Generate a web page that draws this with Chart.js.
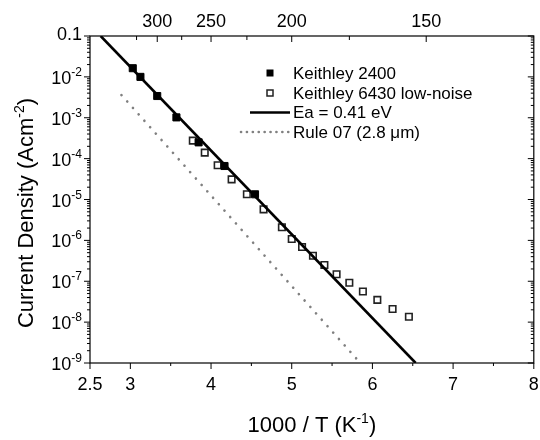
<!DOCTYPE html>
<html>
<head>
<meta charset="UTF-8">
<title>Current Density vs 1000/T</title>
<script src="https://cdn.jsdelivr.net/npm/chart.js"></script>
<style>
  body { margin: 0; background: #fff; }
  #wrap { width: 540px; height: 440px; }
</style>
</head>
<body>
<div id="wrap"><canvas id="jtChart" width="540" height="440"></canvas></div>
<script>
// Keithley 2400 (filled squares)
const k2400X = [3.03, 3.125, 3.333, 3.571, 3.846, 4.167, 4.545];
const k2400Y = [1.63e-2, 1.0e-2, 3.4e-3, 1.02e-3, 2.5e-4, 6.6e-5, 1.34e-5];
// Keithley 6430 low-noise (open squares)
const k6430X = [3.774, 3.922, 4.082, 4.255, 4.444, 4.651, 4.878, 5.0, 5.128, 5.263, 5.405, 5.556, 5.714, 5.882, 6.061, 6.25, 6.452];
const k6430Y = [2.75e-4, 1.4e-4, 6.9e-5, 3.1e-5, 1.34e-5, 5.75e-6, 2.1e-6, 1.08e-6, 6.9e-7, 4.2e-7, 2.5e-7, 1.48e-7, 9.2e-8, 5.6e-8, 3.5e-8, 2.1e-8, 1.35e-8];
// Ea = 0.41 eV fit line
const fitX = [2.632, 6.536];
const fitY = [0.1, 1e-9];
// Rule 07 (2.8 um)
const ruleX = [2.89, 5.85];
const ruleY = [3.6e-3, 1e-9];

// axis ticks
const xMajor = [2.5, 3, 4, 5, 6, 7, 8];
const xMajorLabels = ['2.5', '3', '4', '5', '6', '7', '8'];
const xMinor = [3.5, 4.5, 5.5, 6.5, 7.5];
const topTemps = [300, 250, 200, 150];
const topMinorTemps = [325, 275, 225, 175];
const yExps = [-9, -8, -7, -6, -5, -4, -3, -2, -1];

const FONT = '"Liberation Sans", Arial, sans-serif';

function pts(xs, ys) {
  return xs.map((x, i) => ({ x: x, y: ys[i] }));
}

// draws text runs [text, size, dy] left to right, anchored by align
function drawRuns(ctx, runs, x, y, align) {
  let total = 0;
  runs.forEach(r => {
    ctx.font = r[1] + 'px ' + FONT;
    r.w = ctx.measureText(r[0]).width;
    total += r.w;
  });
  let cx = align === 'right' ? x - total : align === 'center' ? x - total / 2 : x;
  ctx.textAlign = 'left';
  ctx.textBaseline = 'alphabetic';
  runs.forEach(r => {
    ctx.font = r[1] + 'px ' + FONT;
    ctx.fillText(r[0], cx, y + r[2]);
    cx += r.w;
  });
}

const axesPlugin = {
  id: 'originAxes',
  afterDatasetsDraw(chart) {
    const { ctx, chartArea: a } = chart;
    const x = chart.scales.x, y = chart.scales.y;
    ctx.save();
    ctx.fillStyle = '#000';
    ctx.strokeStyle = '#000';
    ctx.lineWidth = 1.2;
    ctx.strokeRect(a.left, a.top, a.right - a.left, a.bottom - a.top);

    ctx.beginPath();
    // bottom ticks, outward
    xMajor.forEach(v => {
      const px = x.getPixelForValue(v);
      ctx.moveTo(px, a.bottom); ctx.lineTo(px, a.bottom + 6);
    });
    xMinor.forEach(v => {
      const px = x.getPixelForValue(v);
      ctx.moveTo(px, a.bottom); ctx.lineTo(px, a.bottom + 3);
    });
    // top ticks (temperature), inward
    topTemps.forEach(t => {
      const px = x.getPixelForValue(1000 / t);
      ctx.moveTo(px, a.top); ctx.lineTo(px, a.top + 6);
    });
    topMinorTemps.forEach(t => {
      const px = x.getPixelForValue(1000 / t);
      ctx.moveTo(px, a.top); ctx.lineTo(px, a.top + 4);
    });
    // left (outward) and right (inward) log ticks
    yExps.forEach(e => {
      const py = y.getPixelForValue(Math.pow(10, e));
      ctx.moveTo(a.left, py); ctx.lineTo(a.left - 6, py);
      ctx.moveTo(a.right, py); ctx.lineTo(a.right - 6, py);
      if (e < -1) {
        for (let m = 2; m <= 9; m++) {
          const pm = y.getPixelForValue(m * Math.pow(10, e));
          ctx.moveTo(a.left, pm); ctx.lineTo(a.left - 3, pm);
          ctx.moveTo(a.right, pm); ctx.lineTo(a.right - 3, pm);
        }
      }
    });
    ctx.lineWidth = 1;
    ctx.stroke();

    // bottom labels
    ctx.textAlign = 'center';
    ctx.textBaseline = 'alphabetic';
    ctx.font = '18px ' + FONT;
    xMajor.forEach((v, i) => {
      ctx.fillText(xMajorLabels[i], x.getPixelForValue(v), a.bottom + 27);
    });
    // top labels
    topTemps.forEach(t => {
      ctx.fillText(String(t), x.getPixelForValue(1000 / t), a.top - 9);
    });
    // left labels
    yExps.forEach(e => {
      const py = y.getPixelForValue(Math.pow(10, e));
      if (e === -1) {
        drawRuns(ctx, [['0.1', 18, 0]], a.left - 8, py + 4, 'right');
      } else {
        drawRuns(ctx, [['10', 18, 0], [String(e), 12, -8]], a.left - 8, py + 7, 'right');
      }
    });

    // axis titles
    drawRuns(ctx, [['1000 / T (K', 22, 0], ['-1', 14, -9], [')', 22, 0]], (a.left + a.right) / 2, 432, 'center');
    ctx.save();
    ctx.translate(33, 213);
    ctx.rotate(-Math.PI / 2);
    drawRuns(ctx, [['Current Density (Acm', 22, 0], ['-2', 14, -9], [')', 22, 0]], 0, 0, 'center');
    ctx.restore();

    // legend
    const lx = 270, tx = 293;
    const rows = [73, 93, 112.5, 132];
    ctx.fillStyle = '#000';
    ctx.fillRect(lx - 3.5, rows[0] - 3.5, 7, 7);
    ctx.lineWidth = 1.5;
    ctx.strokeStyle = '#222';
    ctx.strokeRect(lx - 3, rows[1] - 3, 6, 6);
    ctx.beginPath();
    ctx.strokeStyle = '#000';
    ctx.lineWidth = 2.6;
    ctx.moveTo(250, rows[2]); ctx.lineTo(290, rows[2]);
    ctx.stroke();
    ctx.beginPath();
    ctx.strokeStyle = '#808080';
    ctx.lineCap = 'round';
    ctx.setLineDash([0.1, 5.8]);
    ctx.moveTo(241, rows[3]); ctx.lineTo(290, rows[3]);
    ctx.stroke();
    ctx.setLineDash([]);
    ctx.fillStyle = '#000';
    ctx.font = '17px ' + FONT;
    ctx.textAlign = 'left';
    ctx.textBaseline = 'middle';
    ctx.fillText('Keithley 2400', tx, rows[0] + 1);
    ctx.fillText('Keithley 6430 low-noise', tx, rows[1] + 1);
    ctx.fillText('Ea = 0.41 eV', tx, rows[2] + 1);
    ctx.fillText('Rule 07 (2.8 μm)', tx, rows[3] + 1);
    ctx.restore();
  }
};

new Chart(document.getElementById('jtChart'), {
  type: 'scatter',
  data: {
    datasets: [
      {
        label: 'Ea = 0.41 eV',
        data: pts(fitX, fitY),
        showLine: true,
        borderColor: '#000',
        borderWidth: 2.6,
        pointRadius: 0,
        order: 0
      },
      {
        label: 'Keithley 2400',
        data: pts(k2400X, k2400Y),
        pointStyle: 'rect',
        pointRadius: 5,
        backgroundColor: '#000',
        borderColor: '#000',
        borderWidth: 1,
        order: 1
      },
      {
        label: 'Keithley 6430 low-noise',
        data: pts(k6430X, k6430Y),
        pointStyle: 'rect',
        pointRadius: 4.6,
        backgroundColor: 'rgba(0,0,0,0)',
        borderColor: '#222',
        borderWidth: 1.6,
        order: 2
      },
      {
        label: 'Rule 07 (2.8 μm)',
        data: pts(ruleX, ruleY),
        showLine: true,
        borderColor: '#808080',
        borderWidth: 2.6,
        borderDash: [0.1, 8.5],
        borderCapStyle: 'round',
        pointRadius: 0,
        order: 3
      }
    ]
  },
  options: {
    responsive: false,
    animation: false,
    events: [],
    layout: { padding: { left: 90, right: 3, top: 36, bottom: 77 } },
    scales: {
      x: { type: 'linear', min: 2.5, max: 8, display: false },
      y: { type: 'logarithmic', min: 1e-9, max: 0.1, display: false }
    },
    plugins: {
      legend: { display: false },
      tooltip: { enabled: false }
    }
  },
  plugins: [axesPlugin]
});
</script>
</body>
</html>
